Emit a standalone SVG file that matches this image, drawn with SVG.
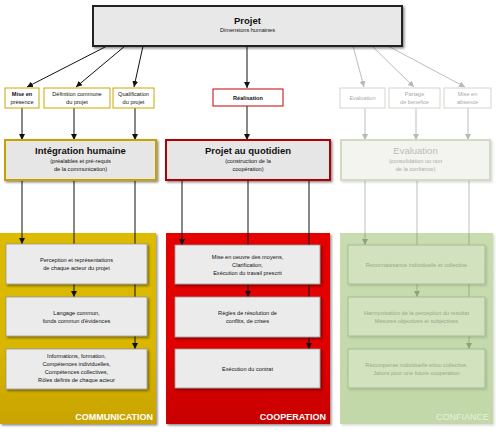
<svg xmlns="http://www.w3.org/2000/svg" width="496" height="434" viewBox="0 0 496 434">
<defs>
  <filter id="sh" x="-10%" y="-10%" width="125%" height="140%">
    <feDropShadow dx="1.5" dy="1.5" stdDeviation="1" flood-color="#000" flood-opacity="0.45"/>
  </filter>
  <filter id="shl" x="-10%" y="-10%" width="125%" height="140%">
    <feDropShadow dx="1.5" dy="1.5" stdDeviation="1" flood-color="#000" flood-opacity="0.15"/>
  </filter>
  <linearGradient id="gy" x1="0" y1="0" x2="0" y2="1">
    <stop offset="0" stop-color="#dcbb00"/>
    <stop offset="0.6" stop-color="#d9b600"/>
    <stop offset="1" stop-color="#c9a400"/>
  </linearGradient>
  <linearGradient id="gr" x1="0" y1="0" x2="0" y2="1">
    <stop offset="0" stop-color="#e60000"/>
    <stop offset="0.6" stop-color="#e00000"/>
    <stop offset="1" stop-color="#c80000"/>
  </linearGradient>
  <linearGradient id="gg" x1="0" y1="0" x2="0" y2="1">
    <stop offset="0" stop-color="#c8dcb0"/>
    <stop offset="1" stop-color="#c2d8a8"/>
  </linearGradient>
  <marker id="ab" viewBox="0 0 10 10" refX="10" refY="5" markerWidth="6" markerHeight="6" orient="auto" markerUnits="userSpaceOnUse">
    <path d="M0,0 L10,5 L0,10 z" fill="#111"/>
  </marker>
  <marker id="ag" viewBox="0 0 10 10" refX="10" refY="5" markerWidth="6" markerHeight="6" orient="auto" markerUnits="userSpaceOnUse">
    <path d="M0,0 L10,5 L0,10 z" fill="#b8b8b8"/>
  </marker>
  <marker id="agg" viewBox="0 0 10 10" refX="10" refY="5" markerWidth="6" markerHeight="6" orient="auto" markerUnits="userSpaceOnUse">
    <path d="M0,0 L10,5 L0,10 z" fill="#8fa37a"/>
  </marker>
</defs>
<style>
  text { font-family: "Liberation Sans", "Open Sans", sans-serif; text-anchor: middle; }
  .s { font-size: 5.6px; fill: #111; }
  .sb { font-size: 5.6px; fill: #111; font-weight: bold; }
  .sg { font-size: 5.6px; fill: #aaa; }
  .t { font-size: 9.5px; font-weight: bold; fill: #111; }
  .tg { font-size: 9.5px; fill: #bbb; }
  .ln { stroke: #111; stroke-width: 1; fill: none; }
  .lg { stroke: #bdbdbd; stroke-width: 1; fill: none; }
  .lgg { stroke: #8fa37a; stroke-width: 0.8; fill: none; }
  .box { fill: #ebebeb; stroke: #9a9a9a; stroke-width: 0.8; }
  .gbox { fill: #d2e2bf; stroke: #9fb487; stroke-width: 0.8; }
  .pl { font-size: 9px; font-weight: bold; fill: #fff; text-anchor: end; }
</style>

<g id="panels">
  <rect id="panel-communication" x="0" y="233" width="156" height="191" fill="url(#gy)" filter="url(#sh)"/>
  <rect id="panel-cooperation" x="166" y="233" width="164" height="191" fill="url(#gr)" filter="url(#sh)"/>
  <rect id="panel-confiance" x="340" y="233" width="153" height="191" fill="url(#gg)" filter="url(#shl)"/>
</g>

<g id="connectors">
  <line class="ln" x1="107" y1="46" x2="27" y2="87" marker-end="url(#ab)"/>
  <line class="ln" x1="125" y1="46" x2="76" y2="87" marker-end="url(#ab)"/>
  <line class="ln" x1="143" y1="46" x2="134" y2="87" marker-end="url(#ab)"/>
  <line class="ln" x1="247" y1="46" x2="247" y2="88" marker-end="url(#ab)"/>
  <line class="lg" x1="353" y1="46" x2="364" y2="87" marker-end="url(#ag)"/>
  <line class="lg" x1="372" y1="46" x2="414" y2="87" marker-end="url(#ag)"/>
  <line class="lg" x1="388" y1="46" x2="465" y2="87" marker-end="url(#ag)"/>

  <line class="ln" x1="22" y1="108" x2="22" y2="140" marker-end="url(#ab)"/>
  <line class="ln" x1="74" y1="108" x2="74" y2="140" marker-end="url(#ab)"/>
  <line class="ln" x1="135" y1="108" x2="135" y2="140" marker-end="url(#ab)"/>
  <line class="ln" x1="247" y1="106" x2="247" y2="140" marker-end="url(#ab)"/>
  <line class="lg" x1="365" y1="108" x2="365" y2="140" marker-end="url(#ag)"/>
  <line class="lg" x1="416" y1="108" x2="416" y2="140" marker-end="url(#ag)"/>
  <line class="lg" x1="468" y1="108" x2="468" y2="140" marker-end="url(#ag)"/>

  <line class="ln" x1="22" y1="180" x2="22" y2="244" marker-end="url(#ab)"/>
  <line class="ln" x1="74" y1="180" x2="74" y2="297" marker-end="url(#ab)"/>
  <line class="ln" x1="135" y1="180" x2="135" y2="349" marker-end="url(#ab)"/>
  <line class="ln" x1="182" y1="180" x2="182" y2="245" marker-end="url(#ab)"/>
  <line class="ln" x1="248" y1="180" x2="248" y2="297" marker-end="url(#ab)"/>
  <line class="ln" x1="309" y1="180" x2="309" y2="349" marker-end="url(#ab)"/>
  <line class="lg" x1="365" y1="180" x2="365" y2="233"/>
  <line class="lg" x1="417" y1="180" x2="417" y2="233"/>
  <line class="lg" x1="469" y1="180" x2="469" y2="233"/>
  <line class="lgg" x1="365" y1="233" x2="365" y2="245" marker-end="url(#agg)"/>
  <line class="lgg" x1="417" y1="233" x2="417" y2="297" marker-end="url(#agg)"/>
  <line class="lgg" x1="469" y1="233" x2="469" y2="349" marker-end="url(#agg)"/>
</g>

<g id="projet">
  <rect x="93" y="6" width="309" height="40" fill="#e8e8e8" stroke="#222" stroke-width="2" filter="url(#sh)"/>
  <text class="t" x="247.5" y="24">Projet</text>
  <text class="s" x="247.5" y="32">Dimensions humaines</text>
</g>

<g id="mise-en-presence">
  <rect x="5" y="88" width="34" height="20" fill="#fff" stroke="#c9a800" stroke-width="1"/>
  <text class="sb" x="22" y="96">Mise en</text>
  <text class="s" x="22" y="104">présence</text>
</g>
<g id="definition-commune">
  <rect x="44" y="88" width="66" height="20" fill="#fff" stroke="#c9a800" stroke-width="1"/>
  <text class="s" x="77" y="96">Définition commune</text>
  <text class="s" x="77" y="104">du projet</text>
</g>
<g id="qualification">
  <rect x="113" y="88" width="41" height="20" fill="#fff" stroke="#c9a800" stroke-width="1"/>
  <text class="s" x="133.5" y="96">Qualification</text>
  <text class="s" x="133.5" y="104">du projet</text>
</g>
<g id="realisation">
  <rect x="213" y="89" width="70" height="17" fill="#fff" stroke="#c00000" stroke-width="1"/>
  <text class="sb" x="248" y="100">Réalisation</text>
</g>
<g id="evaluation-small">
  <rect x="340" y="88" width="45" height="20" fill="#fff" stroke="#d2d8cc" stroke-width="1"/>
  <text class="sg" x="362.5" y="100">Evaluation</text>
</g>
<g id="partage">
  <rect x="389" y="88" width="51" height="20" fill="#fff" stroke="#d2d8cc" stroke-width="1"/>
  <text class="sg" x="414.5" y="96">Partage</text>
  <text class="sg" x="414.5" y="104">de benefice</text>
</g>
<g id="mise-en-absence">
  <rect x="444" y="88" width="47" height="20" fill="#fff" stroke="#d2d8cc" stroke-width="1"/>
  <text class="sg" x="467.5" y="96">Mise en</text>
  <text class="sg" x="467.5" y="104">absence</text>
</g>

<g id="integration-humaine">
  <rect x="5" y="140" width="151" height="40" fill="#e6e6e6" stroke="#c4a300" stroke-width="2" filter="url(#sh)"/>
  <text class="t" x="80.5" y="154">Intégration humaine</text>
  <text class="s" x="80.5" y="163">(préalables et pré-requis</text>
  <text class="s" x="80.5" y="171">de la communication)</text>
</g>
<g id="projet-au-quotidien">
  <rect x="166" y="140" width="164" height="40" fill="#e6e6e6" stroke="#b00000" stroke-width="2" filter="url(#sh)"/>
  <text class="t" x="248" y="154">Projet au quotidien</text>
  <text class="s" x="248" y="163">(construction de la</text>
  <text class="s" x="248" y="171">coopération)</text>
</g>
<g id="evaluation-big">
  <rect x="341" y="140" width="149" height="40" fill="#f3f4f0" stroke="#cfdbc2" stroke-width="2" filter="url(#shl)"/>
  <text class="tg" x="415.5" y="154">Evaluation</text>
  <text class="sg" x="415.5" y="163">(consolidation ou non</text>
  <text class="sg" x="415.5" y="171">de la confiance)</text>
</g>

<g id="perception">
  <rect class="box" x="6" y="244" width="141" height="40" filter="url(#sh)"/>
  <text class="s" x="76.5" y="262">Perception et représentations</text>
  <text class="s" x="76.5" y="270">de chaque acteur du projet</text>
</g>
<g id="langage">
  <rect class="box" x="6" y="297" width="141" height="39" filter="url(#sh)"/>
  <text class="s" x="76.5" y="315">Langage commun,</text>
  <text class="s" x="76.5" y="323">fonds commun d'évidences</text>
</g>
<g id="informations">
  <rect class="box" x="6" y="349" width="141" height="40" filter="url(#sh)"/>
  <text class="s" x="76.5" y="358">Informations, formation,</text>
  <text class="s" x="76.5" y="366">Compétences individuelles,</text>
  <text class="s" x="76.5" y="374">Compétences collectives,</text>
  <text class="s" x="76.5" y="382">Rôles définis de chaque acteur</text>
</g>
<text class="pl" x="153" y="420">COMMUNICATION</text>

<g id="mise-en-oeuvre">
  <rect class="box" x="175" y="245" width="145" height="39" filter="url(#sh)"/>
  <text class="s" x="247.5" y="259">Mise en oeuvre des moyens,</text>
  <text class="s" x="247.5" y="267">Clarification,</text>
  <text class="s" x="247.5" y="275">Exécution du travail prescrit</text>
</g>
<g id="regles">
  <rect class="box" x="175" y="297" width="145" height="40" filter="url(#sh)"/>
  <text class="s" x="247.5" y="315">Règles de résolution de</text>
  <text class="s" x="247.5" y="323">conflits, de crises</text>
</g>
<g id="execution">
  <rect class="box" x="175" y="349" width="145" height="39" filter="url(#sh)"/>
  <text class="s" x="247.5" y="371">Exécution du contrat</text>
</g>
<text class="pl" x="326" y="420">COOPERATION</text>

<g id="reconnaissance">
  <rect class="gbox" x="348" y="245" width="137" height="39" filter="url(#shl)"/>
  <text class="sg" x="416.5" y="267" style="fill:#98a88a">Reconnaissance individuelle et collective</text>
</g>
<g id="harmonisation">
  <rect class="gbox" x="348" y="297" width="137" height="39" filter="url(#shl)"/>
  <text class="sg" x="416.5" y="315" style="fill:#98a88a">Harmonisation de la perception du resultat</text>
  <text class="sg" x="416.5" y="323" style="fill:#98a88a">Mesures objectives et subjectives</text>
</g>
<g id="recompense">
  <rect class="gbox" x="348" y="349" width="137" height="39" filter="url(#shl)"/>
  <text class="sg" x="416.5" y="367" style="fill:#98a88a">Récompense individuelle et/ou collective,</text>
  <text class="sg" x="416.5" y="375" style="fill:#98a88a">Jalons pour une future cooperation</text>
</g>
<text class="pl" x="489" y="420" style="fill:#e8f0de;font-weight:normal">CONFIANCE</text>
</svg>
